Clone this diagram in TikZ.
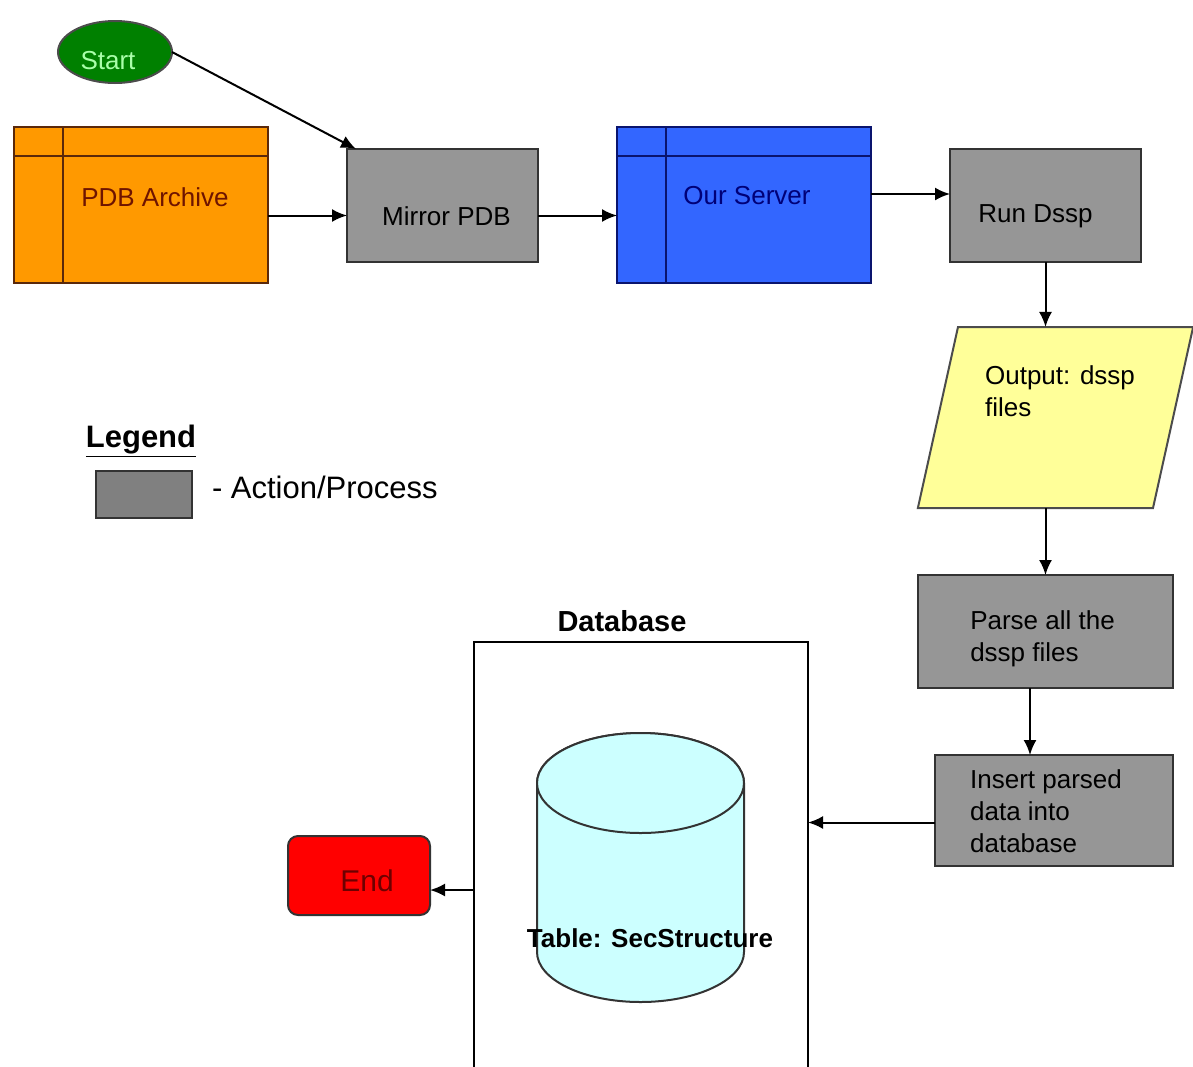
\documentclass[tikz,border=0pt]{standalone}
\usepackage{fontspec}
\setmainfont{Liberation Sans}
\usepackage{xcolor}
\usetikzlibrary{arrows.meta, shapes.geometric}
\definecolor{pdborange}{RGB}{255,153,0}
\definecolor{pdbline}{RGB}{90,40,10}
\definecolor{pdbtext}{RGB}{110,20,0}
\definecolor{serverblue}{RGB}{51,102,255}
\definecolor{serverline}{RGB}{10,20,110}
\definecolor{servertext}{RGB}{0,0,120}
\definecolor{procgray}{RGB}{150,150,150}
\definecolor{legendgray}{RGB}{128,128,128}
\definecolor{outyellow}{RGB}{255,255,153}
\definecolor{cylcyan}{RGB}{204,255,255}
\definecolor{startgreen}{RGB}{0,128,0}
\definecolor{starttext}{RGB}{170,255,170}
\definecolor{endred}{RGB}{255,0,0}
\definecolor{endtext}{RGB}{110,0,0}

\begin{document}
\begin{tikzpicture}[x=1pt, y=-1pt,
    every node/.style={inner sep=0pt, outer sep=0pt, font=\fontsize{26}{32}\selectfont},
    proc/.style={draw=black!80, fill=procgray, line width=2pt, minimum width=191pt, minimum height=113pt},
    store/.style={line width=2pt, minimum width=254pt, minimum height=156pt},
    lbl/.style={align=left},
    arr/.style={line width=2pt, -{Latex[length=15pt, width=13pt]}}]
  \clip (0,0) rectangle (1193,1066);

  % top row
  \node[ellipse, draw=black!70, fill=startgreen, line width=2pt, minimum width=114pt, minimum height=62pt,
    label={[text=starttext, xshift=-7pt, yshift=-9pt]center:Start}] (start) at (115,52) {};
  \node[store, draw=pdbline, fill=pdborange,
    label={[text=pdbtext, xshift=14pt, yshift=8pt]center:PDB Archive}] (pdb) at (141,205) {};
  \draw[pdbline, line width=2pt] ([xshift=49pt]pdb.north west) -- ([xshift=49pt]pdb.south west);
  \draw[pdbline, line width=2pt] ([yshift=-29pt]pdb.north west) -- ([yshift=-29pt]pdb.north east);
  \node[proc, label={[xshift=4pt, yshift=-11pt]center:Mirror PDB}] (mirror) at (442.5,205.5) {};
  \node[store, draw=serverline, fill=serverblue,
    label={[text=servertext, xshift=3pt, yshift=9pt]center:Our Server}] (server) at (744,205) {};
  \draw[serverline, line width=2pt] ([xshift=49pt]server.north west) -- ([xshift=49pt]server.south west);
  \draw[serverline, line width=2pt] ([yshift=-29pt]server.north west) -- ([yshift=-29pt]server.north east);
  \node[proc, label={[xshift=-10pt, yshift=-11pt]center:Run Dssp}] (run) at (1045.5,205.5) {};

  % right column
  \node[trapezium, trapezium left angle=77.5, trapezium right angle=102.5,
    text width=195pt, text height=181pt, text depth=0pt, draw=black!70, fill=outyellow, line width=2pt,
    label={[lbl, xshift=4.5pt, yshift=26pt]center:Output: dssp\\files}] (out) at (1055.5,417.5) {};
  \node[proc, minimum width=255pt, label={[lbl, xshift=-3pt, yshift=-7pt]center:Parse all the\\dssp files}] (parse) at (1045.5,631.5) {};
  \node[proc, minimum width=238pt, minimum height=111pt,
    label={[lbl, xshift=-8pt, yshift=-1pt]center:Insert parsed\\data into\\database}] (insert) at (1054,810.5) {};

  % legend
  \node[font=\bfseries\fontsize{31}{36}\selectfont] (legend) at (141,441) {\underline{Legend}};
  \node[draw=black!80, fill=legendgray, line width=2pt, minimum width=96pt, minimum height=47pt] (legbox) at (144,494.5) {};
  \node[anchor=west, font=\fontsize{31}{36}\selectfont] (legtext) at (212,487) {- Action/Process};

  % database
  \node[draw, line width=2pt, minimum width=334pt, minimum height=458pt,
    label={[font=\bfseries\fontsize{29}{32}\selectfont, xshift=-19pt, yshift=10pt]above:Database}] (db) at (641,871) {};
  \draw[fill=cylcyan, draw=black!80, line width=2pt] (537,783) -- (537,952)
    arc[start angle=180, end angle=0, x radius=103.5, y radius=50] -- (744,783)
    arc[start angle=0, end angle=-180, x radius=103.5, y radius=50] -- cycle;
  \draw[fill=cylcyan, draw=black!80, line width=2pt] (640.5,783) ellipse [x radius=103.5, y radius=50];
  \node[font=\bfseries\fontsize{26}{32}\selectfont] (table) at (650,938) {Table: SecStructure};
  \node[draw=black!80, fill=endred, line width=2pt, rounded corners=10pt, minimum width=142pt, minimum height=79pt,
    label={[text=endtext, font=\fontsize{30}{34}\selectfont, xshift=8pt, yshift=-5.5pt]center:End}] (finish) at (359,875.5) {};

  % connectors
  \draw[arr] (start.east) -- ([xshift=9pt]mirror.north west);
  \draw[arr] ([yshift=-10pt]pdb.east |- mirror.west) -- ([yshift=-10pt]mirror.west);
  \draw[arr] ([yshift=-10pt]mirror.east) -- ([yshift=-10pt]mirror.east -| server.west);
  \draw[arr] ([yshift=11pt]server.east) -- ([yshift=11pt]server.east -| run.west);
  \draw[arr] (run.south) -- (run.south |- out.north);
  \draw[arr] (out.south -| parse.north) -- (parse.north);
  \draw[arr] ([xshift=-15.5pt]parse.south) -- ([xshift=-15.5pt]parse.south |- insert.north);
  \draw[arr] ([yshift=-12pt]insert.west) -- ([yshift=-12pt]insert.west -| db.east);
  \draw[arr] ([yshift=-19pt]db.west) -- ([yshift=-19pt]db.west -| finish.east);
\end{tikzpicture}
\end{document}
